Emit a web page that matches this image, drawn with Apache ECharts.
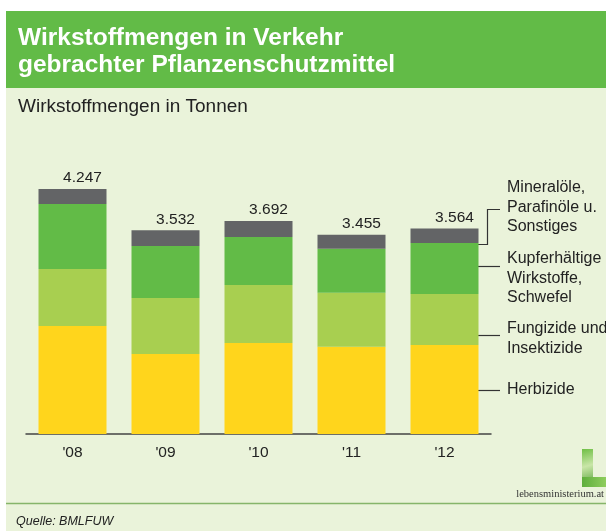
<!DOCTYPE html>
<html>
<head>
<meta charset="utf-8">
<script src="https://cdn.jsdelivr.net/npm/echarts@6/dist/echarts.min.js"></script>
<style>
    html, body { margin: 0; padding: 0; background: #fff; }
    #chart { width: 606px; height: 531px; }
</style>
</head>
<body>
<div id="chart"></div>
<script>
const years = ["'08", "'09", "'10", "'11", "'12"];
const herbizide = [1872, 1387, 1578, 1512, 1543];
const fungizide = [988, 971, 1006, 937, 884];
const kupfer = [1127, 902, 832, 763, 884];
const mineraloele = [260, 272, 276, 243, 253];
const totals = [4247, 3532, 3692, 3455, 3564];

const seriesNames = ['Herbizide', 'Fungizide und Insektizide', 'Kupferhältige Wirkstoffe, Schwefel', 'Mineralöle, Parafinöle u. Sonstiges'];
const colors = ['#ffd51c', '#a8cf50', '#62bb47', '#636466'];

const fontFamily = '"Liberation Sans", Arial, sans-serif';

function formatDe(v) {
    return String(v).replace(/\B(?=(\d{3})+(?!\d))/g, '.');
}

const myChart = echarts.init(document.getElementById('chart'));

// legend texts on the right, y = centre of first line
const legendItems = [
    { lines: ['Mineralöle,', 'Parafinöle u.', 'Sonstiges'], y: 188 },
    { lines: ['Kupferhältige', 'Wirkstoffe,', 'Schwefel'], y: 259 },
    { lines: ['Fungizide und', 'Insektizide'], y: 329 },
    { lines: ['Herbizide'], y: 390 },
];
const legendLineHeight = 19.5;

function midText(x, y, text, font, fill, align) {
    return {
        type: 'text', x: x, y: y,
        style: { text: text, font: font, fill: fill, align: align || 'left', verticalAlign: 'middle' },
    };
}

const graphics = [
    // background panels
    { type: 'rect', shape: { x: 6, y: 11, width: 600, height: 77 }, style: { fill: '#62bb47' }, z: -10 },
    { type: 'rect', shape: { x: 6, y: 88, width: 600, height: 443 }, style: { fill: '#eaf3da' }, z: -10 },
    { type: 'line', shape: { x1: 6, y1: 503.5, x2: 606, y2: 503.5 }, style: { stroke: '#86b56a', lineWidth: 1.5 } },
    // title
    midText(18, 38, 'Wirkstoffmengen in Verkehr', 'bold 24.5px ' + fontFamily, '#fff'),
    midText(18, 65.5, 'gebrachter Pflanzenschutzmittel', 'bold 24.5px ' + fontFamily, '#fff'),
    midText(18, 107, 'Wirkstoffmengen in Tonnen', '19px ' + fontFamily, '#222'),
    midText(16, 522, 'Quelle: BMLFUW', 'italic 12.5px ' + fontFamily, '#222'),
    // logo
    {
        type: 'rect', shape: { x: 582, y: 449, width: 11, height: 38 },
        style: {
            fill: new echarts.graphic.LinearGradient(0, 0, 1, 1, [
                { offset: 0, color: '#6fbf45' },
                { offset: 0.45, color: '#c9e6a8' },
                { offset: 1, color: '#4f9e34' },
            ]),
        },
    },
    {
        type: 'rect', shape: { x: 582, y: 477, width: 24, height: 10 },
        style: {
            fill: new echarts.graphic.LinearGradient(0, 0, 1, 0, [
                { offset: 0, color: '#5eae3c' },
                { offset: 1, color: '#8fcd5e' },
            ]),
        },
    },
    midText(604, 494, 'lebensministerium.at', '10.5px "Liberation Serif", serif', '#333', 'right'),
    // leader lines
    {
        type: 'polyline',
        shape: { points: [[477, 244.5], [487.5, 244.5], [487.5, 209.5], [500, 209.5]] },
        style: { stroke: '#333', lineWidth: 1.2, fill: null },
    },
    { type: 'line', shape: { x1: 478, y1: 266.5, x2: 500, y2: 266.5 }, style: { stroke: '#333', lineWidth: 1.2 } },
    { type: 'line', shape: { x1: 478, y1: 335.5, x2: 500, y2: 335.5 }, style: { stroke: '#333', lineWidth: 1.2 } },
    { type: 'line', shape: { x1: 478, y1: 390.5, x2: 500, y2: 390.5 }, style: { stroke: '#333', lineWidth: 1.2 } },
];

legendItems.forEach(function (item) {
    item.lines.forEach(function (line, i) {
        graphics.push(midText(507, item.y + i * legendLineHeight, line, '16px ' + fontFamily, '#222'));
    });
});

const option = {
    backgroundColor: '#fff',
    animation: false,
    color: colors,
    grid: {
        left: 26,
        top: 88,
        width: 465,
        height: 346,
    },
    xAxis: {
        type: 'category',
        data: years,
        axisTick: { show: false },
        axisLine: { lineStyle: { color: '#444', width: 1.5 } },
        axisLabel: {
            color: '#222',
            fontSize: 15.5,
            fontFamily: fontFamily,
            margin: 11,
        },
    },
    yAxis: {
        type: 'value',
        min: 0,
        max: 6000,
        show: false,
    },
    graphic: graphics,
    series: [
        { name: seriesNames[0], type: 'bar', stack: 'total', barWidth: 68, data: herbizide },
        { name: seriesNames[1], type: 'bar', stack: 'total', data: fungizide },
        { name: seriesNames[2], type: 'bar', stack: 'total', data: kupfer },
        {
            name: seriesNames[3],
            type: 'bar',
            stack: 'total',
            data: mineraloele,
            label: {
                show: true,
                position: 'top',
                offset: [10, 2],
                color: '#222',
                fontSize: 15.5,
                fontFamily: fontFamily,
                formatter: function (p) {
                    return formatDe(totals[p.dataIndex]);
                },
            },
        },
    ],
};
myChart.setOption(option);
</script>
</body>
</html>
